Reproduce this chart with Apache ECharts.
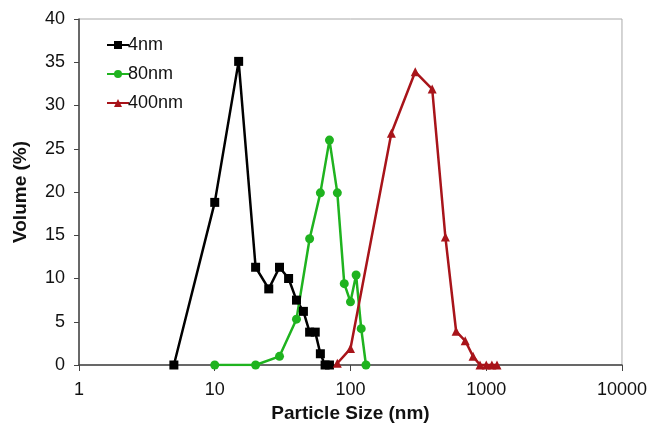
<!DOCTYPE html>
<html>
<head>
    <meta charset="utf-8">
    <title>Particle size distribution</title>
    <script src="https://cdn.jsdelivr.net/npm/echarts@6/dist/echarts.min.js"></script>
</head>
<body style="margin:0">
<div id="main" style="width: 650px;height:428px;"></div>
<script type="text/javascript">
    // sizes (nm) and volume (%)
    var size4 = [5, 10, 15, 20, 25, 30, 35, 40, 45, 50, 55, 60, 65, 70];
    var vol4 = [0, 18.8, 35.1, 11.3, 8.8, 11.3, 10, 7.5, 6.2, 3.8, 3.8, 1.3, 0, 0];

    var size80 = [10, 20, 30, 40, 50, 60, 70, 80, 90, 100, 110, 120, 130];
    var vol80 = [0, 0, 1.0, 5.3, 14.6, 19.9, 26.0, 19.9, 9.4, 7.3, 10.4, 4.2, 0];

    var size400 = [80, 100, 200, 300, 400, 500, 600, 700, 800, 900, 1000, 1100, 1200];
    var vol400 = [0.2, 1.9, 26.8, 33.9, 31.9, 14.8, 3.9, 2.8, 1.0, 0, 0, 0, 0];

    function pairs(xs, ys) {
        return xs.map(function (x, i) { return [x, ys[i]]; });
    }

    var font = 'Liberation Sans, Arial, sans-serif';
    var myChart = echarts.init(document.getElementById('main'));

    myChart.setOption({
        animation: false,
        backgroundColor: '#fff',
        grid: {
            left: 79, right: 27, top: 19, bottom: 63,
            show: true, borderColor: '#aaa', borderWidth: 1
        },
        legend: {
            orient: 'vertical',
            left: 101, top: 31,
            itemGap: 11,
            itemWidth: 22, itemHeight: 10,
            textStyle: { fontFamily: font, fontSize: 18, color: '#111', padding: [0, 0, 0, -6] },
            data: ['4nm', '80nm', '400nm']
        },
        xAxis: {
            type: 'log',
            logBase: 10,
            min: 1, max: 10000,
            name: 'Particle Size (nm)',
            nameLocation: 'middle',
            nameGap: 38,
            nameTextStyle: { fontFamily: font, fontSize: 19, fontWeight: 'bold', color: '#111' },
            axisLine: { lineStyle: { color: '#444', width: 1.5 } },
            axisTick: { show: true, length: 6, lineStyle: { color: '#444' } },
            minorTick: { show: false },
            splitLine: { show: false },
            axisLabel: {
                fontFamily: font, fontSize: 18, color: '#111', margin: 16,
                formatter: function (v) { return String(Math.round(v)); }
            }
        },
        yAxis: {
            type: 'value',
            min: 0, max: 40, interval: 5,
            name: 'Volume (%)',
            nameLocation: 'middle',
            nameGap: 49,
            nameTextStyle: { fontFamily: font, fontSize: 19, fontWeight: 'bold', color: '#111' },
            axisLine: { show: true, lineStyle: { color: '#444', width: 1.5 } },
            axisTick: { show: true, length: 5, lineStyle: { color: '#444' } },
            splitLine: { show: false },
            axisLabel: { fontFamily: font, fontSize: 18, color: '#111', margin: 14 }
        },
        series: [
            {
                name: '4nm', type: 'line',
                data: pairs(size4, vol4),
                symbol: 'rect', symbolSize: 9,
                itemStyle: { color: '#000' },
                lineStyle: { color: '#000', width: 2.5 }
            },
            {
                name: '80nm', type: 'line',
                data: pairs(size80, vol80),
                symbol: 'circle', symbolSize: 9,
                itemStyle: { color: '#1fb31f' },
                lineStyle: { color: '#1fb31f', width: 2.5 }
            },
            {
                name: '400nm', type: 'line',
                data: pairs(size400, vol400),
                symbol: 'triangle', symbolSize: 9,
                itemStyle: { color: '#a8141a' },
                lineStyle: { color: '#a8141a', width: 2.5 }
            }
        ]
    });
</script>
</body>
</html>
